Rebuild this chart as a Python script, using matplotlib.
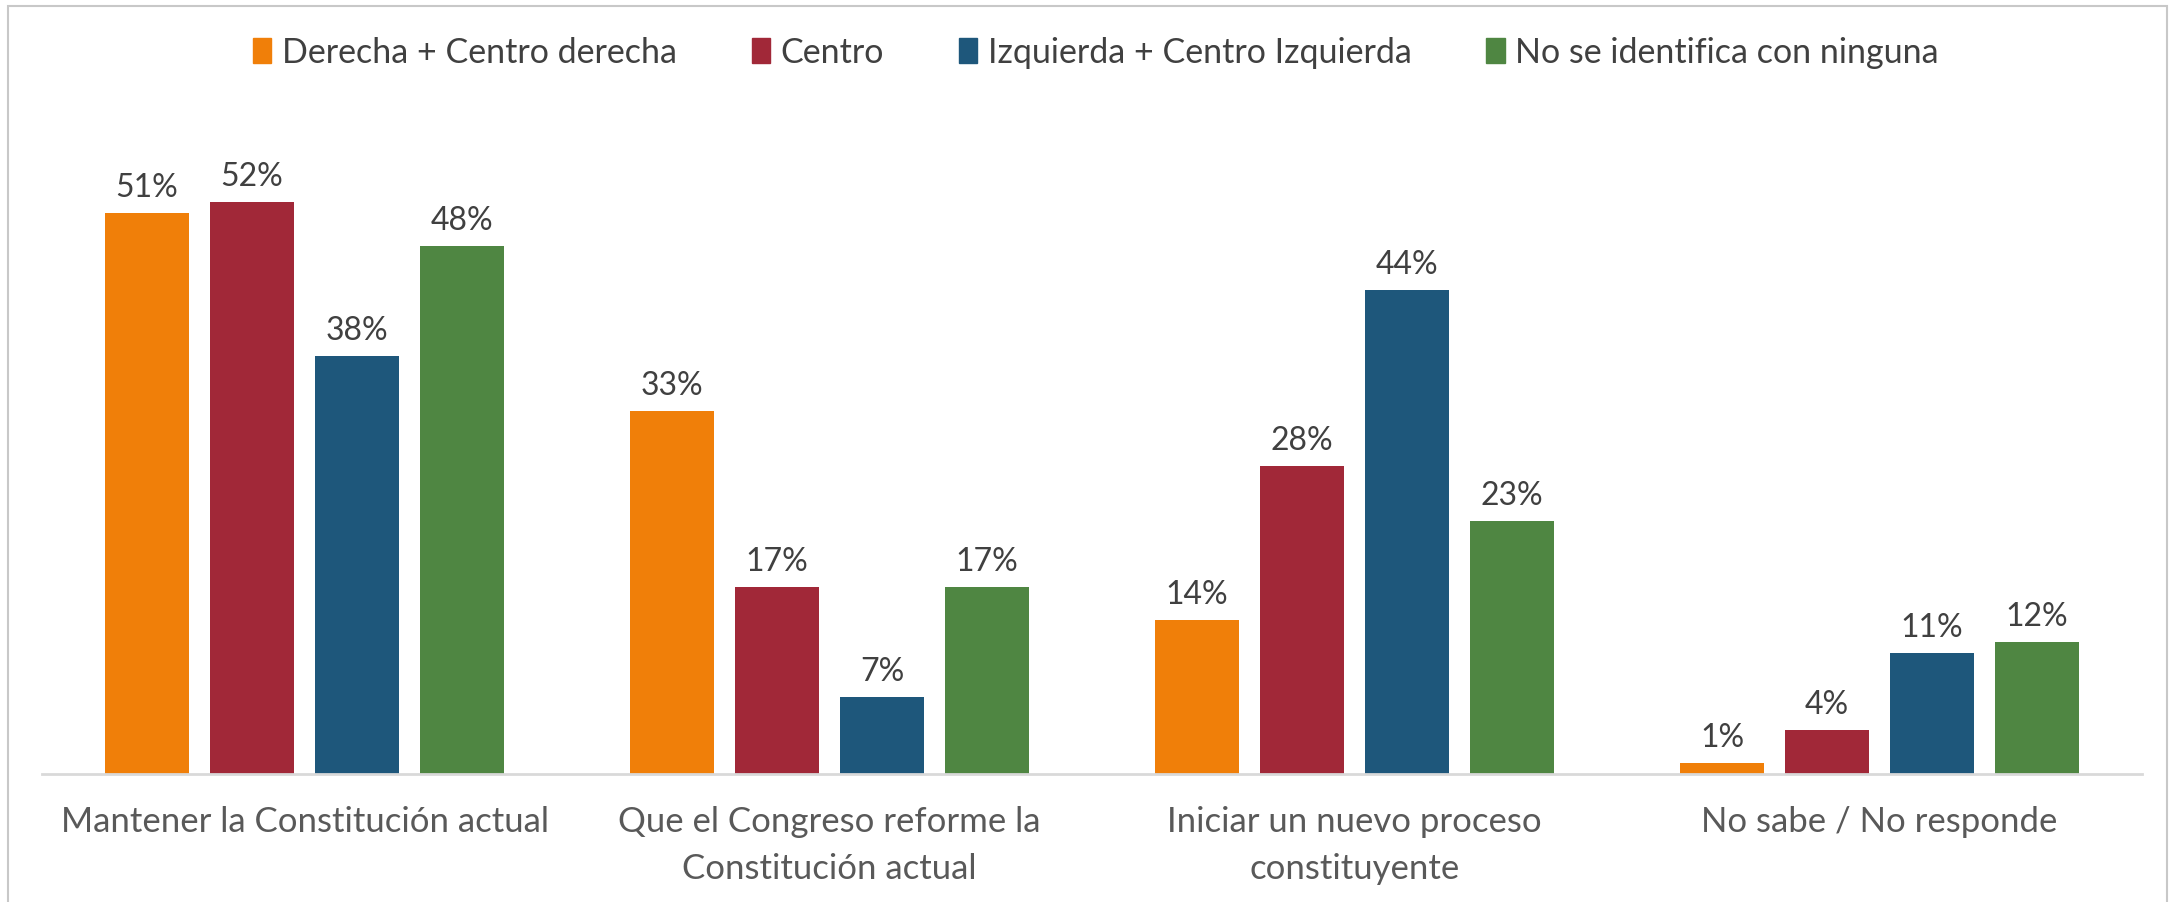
import numpy as np
import matplotlib
matplotlib.use("Agg")
import matplotlib.pyplot as plt
from matplotlib.patches import Rectangle, Patch

plt.rcParams['font.family'] = ['Lato', 'DejaVu Sans']

categories = ['Mantener la Constitución actual',
              'Que el Congreso reforme la\nConstitución actual',
              'Iniciar un nuevo proceso\nconstituyente',
              'No sabe / No responde']
series = ['Derecha + Centro derecha', 'Centro',
          'Izquierda + Centro Izquierda', 'No se identifica con ninguna']
derecha = [51, 33, 14, 1]
centro = [52, 17, 28, 4]
izquierda = [38, 7, 44, 11]
ninguna = [48, 17, 23, 12]
colors = ['#F07F09', '#A12838', '#1E577B', '#4F8642']

values = [derecha, centro, izquierda, ninguna]

fig = plt.figure(figsize=(21.7, 9.03), dpi=100)
ax = fig.add_axes([0.0194, 0.1417, 0.9677, 0.731])

x = np.arange(len(categories))
pitch = 0.2
width = 0.16
for i, (vals, c, name) in enumerate(zip(values, colors, series)):
    bars = ax.bar(x + (i - 1.5) * pitch, vals, width, color=c, label=name)
    ax.bar_label(bars, labels=[f'{v}%' for v in vals], padding=8,
                 fontsize=23, color='#404040')

ax.set_xlim(-0.5, 3.5)
ax.set_ylim(0, 60)
ax.set_yticks([])
ax.set_xticks(x)
ax.set_xticklabels(categories, fontsize=25, color='#595959', linespacing=1.6)
ax.tick_params(axis='x', length=0, pad=22)
for s in ['top', 'right', 'left']:
    ax.spines[s].set_visible(False)
ax.spines['bottom'].set_color('#D9D9D9')
ax.spines['bottom'].set_linewidth(2)

handles = [Patch(color=c, label=n) for c, n in zip(colors, series)]
fig.legend(handles=handles, loc='center', bbox_to_anchor=(0.505, 0.941),
           ncol=4, frameon=False, fontsize=24.5, labelcolor='#404040',
           handlelength=0.55, handleheight=0.75, handletextpad=0.3,
           columnspacing=2.2)

# thin frame around the chart area
fig.patches.append(Rectangle((8 / 2170, -0.1), (2167 - 8) / 2170, 1.1 - 7 / 903,
                             transform=fig.transFigure, fill=False,
                             edgecolor='#C8C8C8', linewidth=1.5))

fig.savefig('out.png', dpi=100)
